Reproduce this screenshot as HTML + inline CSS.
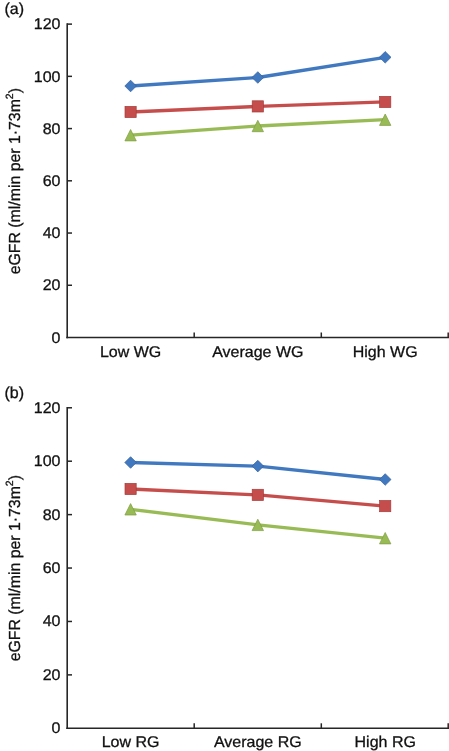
<!DOCTYPE html>
<html><head><meta charset="utf-8"><style>
html,body{margin:0;padding:0;background:#fff;width:449px;height:751px;overflow:hidden}
svg{display:block;will-change:transform}
text{font-family:"Liberation Sans",sans-serif;font-size:16px;fill:#111;stroke:#111;stroke-width:0.3px;text-rendering:geometricPrecision}
</style></head><body>
<svg width="449" height="751" viewBox="0 0 449 751">
<rect width="449" height="751" fill="#fff"/>
<line x1="67.2" y1="23.320000000000004" x2="67.2" y2="338.3" stroke="#262626" stroke-width="1.6"/>
<line x1="66.3" y1="337.5" x2="449" y2="337.5" stroke="#262626" stroke-width="1.6"/>
<text transform="translate(60.50,342.70) scale(1,0.97)" text-anchor="end">0</text>
<line x1="67.2" y1="285.27" x2="72" y2="285.27" stroke="#262626" stroke-width="1.5"/>
<text transform="translate(60.50,290.47) scale(1,0.97)" text-anchor="end">20</text>
<line x1="67.2" y1="233.04" x2="72" y2="233.04" stroke="#262626" stroke-width="1.5"/>
<text transform="translate(60.50,238.24) scale(1,0.97)" text-anchor="end">40</text>
<line x1="67.2" y1="180.81" x2="72" y2="180.81" stroke="#262626" stroke-width="1.5"/>
<text transform="translate(60.50,186.01) scale(1,0.97)" text-anchor="end">60</text>
<line x1="67.2" y1="128.58" x2="72" y2="128.58" stroke="#262626" stroke-width="1.5"/>
<text transform="translate(60.50,133.78) scale(1,0.97)" text-anchor="end">80</text>
<line x1="67.2" y1="76.35" x2="72" y2="76.35" stroke="#262626" stroke-width="1.5"/>
<text transform="translate(60.50,81.55) scale(1,0.97)" text-anchor="end">100</text>
<line x1="67.2" y1="24.12" x2="72" y2="24.12" stroke="#262626" stroke-width="1.5"/>
<text transform="translate(60.50,29.32) scale(1,0.97)" text-anchor="end">120</text>
<line x1="194.2" y1="332.5" x2="194.2" y2="337.5" stroke="#262626" stroke-width="1.5"/>
<line x1="321.3" y1="332.5" x2="321.3" y2="337.5" stroke="#262626" stroke-width="1.5"/>
<line x1="448.2" y1="332.5" x2="448.2" y2="337.5" stroke="#262626" stroke-width="1.5"/>
<text transform="translate(130.60,356.60) scale(1,0.97)" text-anchor="middle">Low WG</text>
<text transform="translate(257.80,356.60) scale(1,0.97)" text-anchor="middle">Average WG</text>
<text transform="translate(385.20,356.60) scale(1,0.97)" text-anchor="middle">High WG</text>
<polyline points="130.6,86 257.8,77.5 385.2,57.3" fill="none" stroke="#4179c0" stroke-width="3.3" stroke-linejoin="round"/>
<polygon points="130.6,80.2 136.4,86 130.6,91.8 124.8,86" fill="#4179c0" stroke="#335f99" stroke-width="0.7"/>
<polygon points="257.8,71.7 263.6,77.5 257.8,83.3 252.0,77.5" fill="#4179c0" stroke="#335f99" stroke-width="0.7"/>
<polygon points="385.2,51.5 391.0,57.3 385.2,63.099999999999994 379.4,57.3" fill="#4179c0" stroke="#335f99" stroke-width="0.7"/>
<polyline points="130.6,112 257.8,106.4 385.2,101.95" fill="none" stroke="#c54e4c" stroke-width="3.3" stroke-linejoin="round"/>
<rect x="125.0" y="106.4" width="11.2" height="11.2" fill="#c54e4c" stroke="#a43c3a" stroke-width="0.7"/>
<rect x="252.20000000000002" y="100.80000000000001" width="11.2" height="11.2" fill="#c54e4c" stroke="#a43c3a" stroke-width="0.7"/>
<rect x="379.59999999999997" y="96.35000000000001" width="11.2" height="11.2" fill="#c54e4c" stroke="#a43c3a" stroke-width="0.7"/>
<polyline points="130.6,135.2 257.8,126 385.2,119.7" fill="none" stroke="#99bb55" stroke-width="3.3" stroke-linejoin="round"/>
<polygon points="130.6,129.5 136.29999999999998,140.89999999999998 124.89999999999999,140.89999999999998" fill="#99bb55" stroke="#7f9c44" stroke-width="0.7"/>
<polygon points="257.8,120.3 263.5,131.7 252.10000000000002,131.7" fill="#99bb55" stroke="#7f9c44" stroke-width="0.7"/>
<polygon points="385.2,114.0 390.9,125.4 379.5,125.4" fill="#99bb55" stroke="#7f9c44" stroke-width="0.7"/>
<text transform="translate(4.50,13.80) scale(1,1)" text-anchor="start" font-size="16">(a)</text>
<text transform="translate(20.0,181.2) rotate(-90) scale(0.99,1)" text-anchor="middle" font-size="16">eGFR (ml/min per 1·73m<tspan dy="-7" font-size="10.5">2</tspan><tspan dy="7">)</tspan></text>
<line x1="67.2" y1="406.97999999999996" x2="67.2" y2="729.0999999999999" stroke="#262626" stroke-width="1.6"/>
<line x1="66.3" y1="728.3" x2="449" y2="728.3" stroke="#262626" stroke-width="1.6"/>
<text transform="translate(60.50,733.20) scale(1,0.97)" text-anchor="end">0</text>
<line x1="67.2" y1="674.88" x2="72" y2="674.88" stroke="#262626" stroke-width="1.5"/>
<text transform="translate(60.50,679.78) scale(1,0.97)" text-anchor="end">20</text>
<line x1="67.2" y1="621.46" x2="72" y2="621.46" stroke="#262626" stroke-width="1.5"/>
<text transform="translate(60.50,626.36) scale(1,0.97)" text-anchor="end">40</text>
<line x1="67.2" y1="568.04" x2="72" y2="568.04" stroke="#262626" stroke-width="1.5"/>
<text transform="translate(60.50,572.94) scale(1,0.97)" text-anchor="end">60</text>
<line x1="67.2" y1="514.62" x2="72" y2="514.62" stroke="#262626" stroke-width="1.5"/>
<text transform="translate(60.50,519.52) scale(1,0.97)" text-anchor="end">80</text>
<line x1="67.2" y1="461.20" x2="72" y2="461.20" stroke="#262626" stroke-width="1.5"/>
<text transform="translate(60.50,466.10) scale(1,0.97)" text-anchor="end">100</text>
<line x1="67.2" y1="407.78" x2="72" y2="407.78" stroke="#262626" stroke-width="1.5"/>
<text transform="translate(60.50,412.68) scale(1,0.97)" text-anchor="end">120</text>
<line x1="194.2" y1="723.3" x2="194.2" y2="728.3" stroke="#262626" stroke-width="1.5"/>
<line x1="321.3" y1="723.3" x2="321.3" y2="728.3" stroke="#262626" stroke-width="1.5"/>
<line x1="448.2" y1="723.3" x2="448.2" y2="728.3" stroke="#262626" stroke-width="1.5"/>
<text transform="translate(130.60,747.00) scale(1,0.97)" text-anchor="middle">Low RG</text>
<text transform="translate(257.80,747.00) scale(1,0.97)" text-anchor="middle">Average RG</text>
<text transform="translate(385.20,747.00) scale(1,0.97)" text-anchor="middle">High RG</text>
<polyline points="130.6,462.5 257.8,466.1 385.2,479.5" fill="none" stroke="#4179c0" stroke-width="3.3" stroke-linejoin="round"/>
<polygon points="130.6,456.7 136.4,462.5 130.6,468.3 124.8,462.5" fill="#4179c0" stroke="#335f99" stroke-width="0.7"/>
<polygon points="257.8,460.3 263.6,466.1 257.8,471.90000000000003 252.0,466.1" fill="#4179c0" stroke="#335f99" stroke-width="0.7"/>
<polygon points="385.2,473.7 391.0,479.5 385.2,485.3 379.4,479.5" fill="#4179c0" stroke="#335f99" stroke-width="0.7"/>
<polyline points="130.6,489 257.8,494.9 385.2,506.1" fill="none" stroke="#c54e4c" stroke-width="3.3" stroke-linejoin="round"/>
<rect x="125.0" y="483.4" width="11.2" height="11.2" fill="#c54e4c" stroke="#a43c3a" stroke-width="0.7"/>
<rect x="252.20000000000002" y="489.29999999999995" width="11.2" height="11.2" fill="#c54e4c" stroke="#a43c3a" stroke-width="0.7"/>
<rect x="379.59999999999997" y="500.5" width="11.2" height="11.2" fill="#c54e4c" stroke="#a43c3a" stroke-width="0.7"/>
<polyline points="130.6,509.3 257.8,524.9 385.2,538.2" fill="none" stroke="#99bb55" stroke-width="3.3" stroke-linejoin="round"/>
<polygon points="130.6,503.6 136.29999999999998,515.0 124.89999999999999,515.0" fill="#99bb55" stroke="#7f9c44" stroke-width="0.7"/>
<polygon points="257.8,519.1999999999999 263.5,530.6 252.10000000000002,530.6" fill="#99bb55" stroke="#7f9c44" stroke-width="0.7"/>
<polygon points="385.2,532.5 390.9,543.9000000000001 379.5,543.9000000000001" fill="#99bb55" stroke="#7f9c44" stroke-width="0.7"/>
<text transform="translate(4.50,397.80) scale(1,1)" text-anchor="start" font-size="16">(b)</text>
<text transform="translate(20.0,568.2) rotate(-90) scale(0.99,1)" text-anchor="middle" font-size="16">eGFR (ml/min per 1·73m<tspan dy="-7" font-size="10.5">2</tspan><tspan dy="7">)</tspan></text>
</svg></body></html>
